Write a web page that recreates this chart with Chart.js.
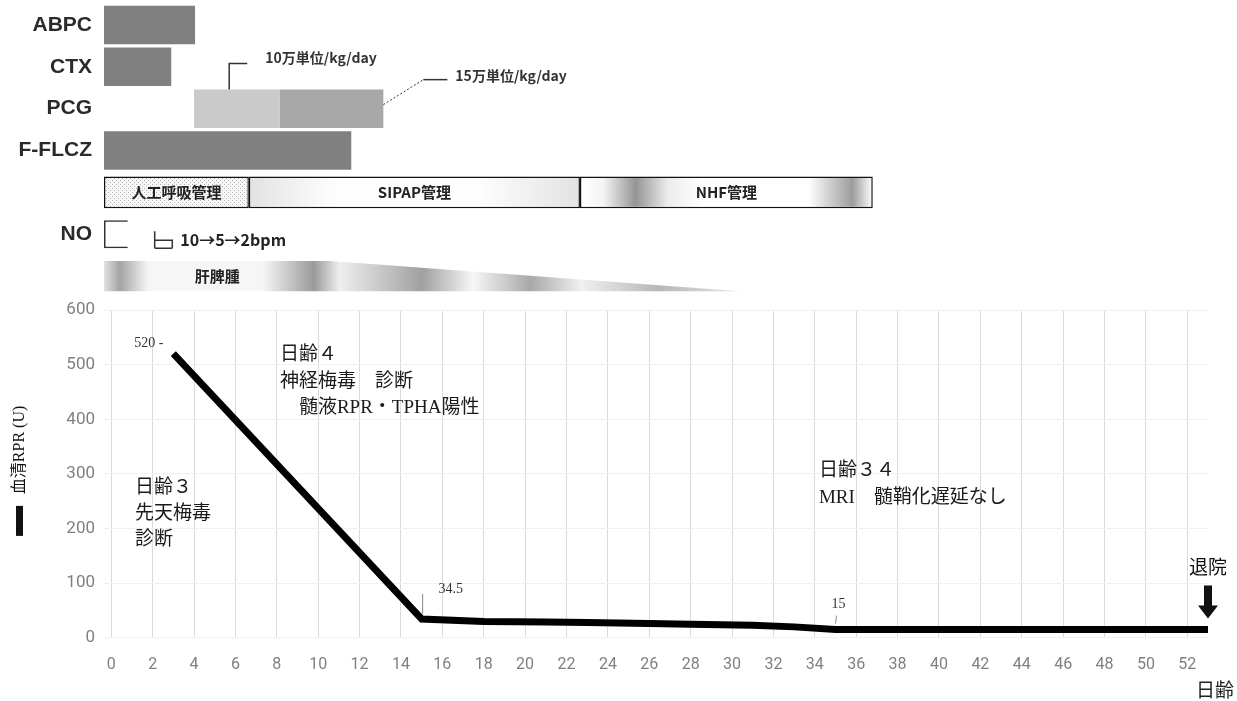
<!DOCTYPE html>
<html>
<head>
<meta charset="utf-8">
<script src="https://cdn.jsdelivr.net/npm/chart.js@4.4.0/dist/chart.umd.min.js"></script>
<style>
html,body{margin:0;padding:0;background:#fff;overflow:hidden;}
#top{position:absolute;left:0;top:0;width:1237px;height:300px;}
#bottom{position:absolute;left:0;top:297px;width:1237px;height:404px;}
</style>
</head>
<body>
<div id="top"><canvas id="therapy"></canvas></div>
<div id="bottom"><canvas id="rpr"></canvas></div>
<script>
// 治療経過（日齢）
const rows = ['ABPC','CTX','PCG','F-FLCZ','','NO',''];
const abpc = [-0.35, 4.05];
const ctx = [-0.35, 2.9];
const fflcz = [-0.35, 11.6];
const pcg10 = [4.0, 8.15];
const pcg15 = [8.15, 13.15];
const pcgNotes = ['10万単位/kg/day', '15万単位/kg/day'];
const respNames = ['人工呼吸管理', 'SIPAP管理', 'NHF管理'];
const respSpans = [[-0.35, 6.65], [6.65, 22.65], [22.65, 36.8]];
const noSpan = [-0.35, 0.8];
const noStep = [2.1, 2.95];
const noText = '10→5→2bpm';
const hsmName = '肝脾腫';
const hsmDays = [-0.35, 10.6, 30.4];

// 血清RPR
const days = [3, 15, 18, 21, 23, 26, 28, 31, 33, 35, 53];
const rpr = [520, 34.5, 30, 29, 28, 26, 25, 23, 20, 15, 15];
const noteDay3 = ['日齢３', '先天梅毒', '診断'];
const noteDay4 = ['日齢４', '神経梅毒　診断', '　髄液RPR・TPHA陽性'];
const noteDay34 = ['日齢３４', 'MRI　髄鞘化遅延なし'];
const discharge = '退院';

const X_MIN = -0.35, X_MAX = 53;
const LEFT_W = 104, RIGHT_PAD = 29;
const jp = "'Noto Sans CJK JP', sans-serif";
const serifJp = "'Liberation Serif', 'Noto Sans CJK JP', serif";

function oneRow(i, span) {
  const a = rows.map(() => null);
  a[i] = span;
  return a;
}

function noLabelPad(s) {
  s.width = LEFT_W;
  s.paddingTop = 0;
  s.paddingBottom = 0;
}

function dotPattern() {
  const c = document.createElement('canvas');
  c.width = 4; c.height = 4;
  const g = c.getContext('2d');
  g.fillStyle = '#f6f6f6'; g.fillRect(0, 0, 4, 4);
  g.fillStyle = '#b5b5b5'; g.fillRect(0, 0, 1, 1); g.fillRect(2, 2, 1, 1);
  return g.createPattern(c, 'repeat');
}

function respFill(i) {
  return function (c) {
    const ch = c.chart, xs = ch.scales.x;
    if (i === 0) return dotPattern();
    if (!xs) return '#fff';
    const x0 = xs.getPixelForValue(respSpans[i][0]);
    const x1 = xs.getPixelForValue(respSpans[i][1]);
    if (!isFinite(x0) || !isFinite(x1) || x1 <= x0) return '#fff';
    const g = ch.ctx.createLinearGradient(x0, 0, x1, 0);
    if (i === 1) {
      g.addColorStop(0, '#e2e2e2'); g.addColorStop(0.25, '#fdfdfd');
      g.addColorStop(0.7, '#fdfdfd'); g.addColorStop(1, '#e2e2e2');
    } else {
      g.addColorStop(0, '#ffffff'); g.addColorStop(0.08, '#f4f4f4');
      g.addColorStop(0.19, '#959595'); g.addColorStop(0.3, '#ececec');
      g.addColorStop(0.42, '#ffffff'); g.addColorStop(0.78, '#ffffff');
      g.addColorStop(0.93, '#9c9c9c'); g.addColorStop(1, '#ffffff');
    }
    return g;
  };
}

const therapyDecor = {
  id: 'therapyDecor',
  afterDatasetsDraw(chart) {
    const c = chart.ctx, xs = chart.scales.x, ys = chart.scales.y;
    const band = ys.getPixelForValue(1) - ys.getPixelForValue(0);
    c.save();

    // 呼吸管理の文字
    respNames.forEach((name, i) => {
      const el = chart.getDatasetMeta(3 + i).data[4];
      c.font = 'bold 15px ' + jp;
      c.fillStyle = '#222';
      c.textAlign = 'center'; c.textBaseline = 'middle';
      c.fillText(name, (el.x + el.base) / 2, el.y);
    });

    // PCG 注記
    const p1 = chart.getDatasetMeta(1).data[2];
    const p2 = chart.getDatasetMeta(2).data[2];
    const top1 = p1.y - p1.height / 2;
    const lx = xs.getPixelForValue(5.7);
    c.strokeStyle = '#333'; c.lineWidth = 1.5;
    c.beginPath();
    c.moveTo(lx, top1); c.lineTo(lx, top1 - 26); c.lineTo(lx + 18, top1 - 26);
    c.stroke();
    c.font = 'bold 14px ' + jp;
    c.fillStyle = '#333'; c.textAlign = 'left'; c.textBaseline = 'middle';
    c.fillText(pcgNotes[0], lx + 36, top1 - 32);
    const ex = p2.x;
    c.setLineDash([2, 2]); c.lineWidth = 1;
    c.beginPath(); c.moveTo(ex, p2.y - 4); c.lineTo(ex + 40, p2.y - 29); c.stroke();
    c.setLineDash([]); c.lineWidth = 1.5;
    c.beginPath(); c.moveTo(ex + 40, p2.y - 29); c.lineTo(ex + 64, p2.y - 29); c.stroke();
    c.fillText(pcgNotes[1], ex + 72, p2.y - 33);

    // NO の段階
    const ny = ys.getPixelForValue(5);
    const nh = band * 0.67 / 2;
    const s0 = xs.getPixelForValue(noStep[0]), s1 = xs.getPixelForValue(noStep[1]);
    c.strokeStyle = '#333'; c.lineWidth = 1.5;
    c.beginPath();
    c.moveTo(s0, ny - 3); c.lineTo(s0, ny + nh);
    c.moveTo(s0, ny + nh); c.lineTo(s1, ny + nh);
    c.moveTo(s0, ny + 6); c.lineTo(s1, ny + 6); c.lineTo(s1, ny + nh);
    c.stroke();
    c.font = 'bold 16px ' + jp;
    c.fillStyle = '#222';
    c.fillText(noText, s1 + 8, ny + 6);

    // 肝脾腫
    const hy = ys.getPixelForValue(6);
    const hh = band * 0.36;
    const h0 = xs.getPixelForValue(hsmDays[0]);
    const h1 = xs.getPixelForValue(hsmDays[1]);
    const h2 = xs.getPixelForValue(hsmDays[2]);
    const g = c.createLinearGradient(h0, 0, h2, 0);
    [[0, '#e2e2e2'], [0.025, '#a4a4a4'], [0.07, '#f6f6f6'], [0.25, '#f6f6f6'],
     [0.33, '#9a9a9a'], [0.37, '#efefef'], [0.5, '#a0a0a0'], [0.58, '#f7f7f7'],
     [0.67, '#a8a8a8'], [0.75, '#f0f0f0'], [0.87, '#b8b8b8'], [1, '#e4e4e4']]
      .forEach(s => g.addColorStop(s[0], s[1]));
    c.fillStyle = g;
    c.beginPath();
    c.moveTo(h0, hy - hh); c.lineTo(h1, hy - hh); c.lineTo(h2, hy + hh); c.lineTo(h0, hy + hh);
    c.closePath(); c.fill();
    c.font = 'bold 15px ' + jp;
    c.fillStyle = '#222'; c.textAlign = 'center';
    c.fillText(hsmName, (h0 + h1) / 2, hy);
    c.restore();
  }
};

new Chart(document.getElementById('therapy'), {
  type: 'bar',
  data: {
    labels: rows,
    datasets: [
      { data: [abpc, ctx, null, fflcz, null, null, null], backgroundColor: '#808080', barPercentage: 0.92 },
      { data: oneRow(2, pcg10), backgroundColor: '#cacaca', barPercentage: 0.92 },
      { data: oneRow(2, pcg15), backgroundColor: '#a8a8a8', barPercentage: 0.92 },
      { data: oneRow(4, respSpans[0]), backgroundColor: respFill(0), borderColor: '#111', borderWidth: 1.5, borderSkipped: false, barPercentage: 0.76 },
      { data: oneRow(4, respSpans[1]), backgroundColor: respFill(1), borderColor: '#111', borderWidth: 1.5, borderSkipped: false, barPercentage: 0.76 },
      { data: oneRow(4, respSpans[2]), backgroundColor: respFill(2), borderColor: '#111', borderWidth: 1.5, borderSkipped: false, barPercentage: 0.76 },
      { data: oneRow(5, noSpan), backgroundColor: 'rgba(0,0,0,0)', borderColor: '#333', borderWidth: 1.5, borderSkipped: 'right', barPercentage: 0.67 }
    ]
  },
  options: {
    indexAxis: 'y',
    responsive: true,
    maintainAspectRatio: false,
    animation: false,
    grouped: false,
    categoryPercentage: 1,
    layout: { padding: { top: 4, bottom: 3, left: 0, right: RIGHT_PAD } },
    plugins: { legend: { display: false }, tooltip: { enabled: false } },
    scales: {
      x: { type: 'linear', min: X_MIN, max: X_MAX, display: false },
      y: {
        grid: { display: false, drawTicks: false },
        border: { display: false },
        ticks: { color: '#2a2a2a', padding: 12, font: { family: "'Liberation Sans Narrow', 'Liberation Sans', sans-serif", weight: 'bold', size: 21 } },
        afterFit: noLabelPad
      }
    }
  },
  plugins: [therapyDecor]
});

function drawLines(c, lines, x, y, lh) {
  lines.forEach((t, i) => c.fillText(t, x, y + i * lh));
}

const rprDecor = {
  id: 'rprDecor',
  afterDatasetsDraw(chart) {
    const c = chart.ctx, xs = chart.scales.x, ys = chart.scales.y;
    const px = d => xs.getPixelForValue(d), py = v => ys.getPixelForValue(v);
    c.save();
    c.fillStyle = '#1a1a1a';
    c.textBaseline = 'middle'; c.textAlign = 'left';
    c.font = '19px ' + serifJp;
    drawLines(c, noteDay3, px(1.15), py(274), 26);
    drawLines(c, noteDay4, px(8.15), py(517), 26.5);
    drawLines(c, noteDay34, px(34.2), py(305), 27);

    // 値ラベル
    const first = chart.getDatasetMeta(0).data[0];
    c.font = '14px ' + serifJp;
    c.fillStyle = '#333';
    c.textAlign = 'right';
    c.fillText(rpr[0] + ' -', first.x - 10, first.y - 10);
    const nadir = chart.getDatasetMeta(0).data[1];
    c.textAlign = 'center';
    c.fillText(String(rpr[1]), nadir.x + 29, nadir.y - 30);
    c.strokeStyle = '#888'; c.lineWidth = 1;
    c.beginPath(); c.moveTo(nadir.x + 1, nadir.y - 25); c.lineTo(nadir.x + 1, nadir.y - 5); c.stroke();
    const low = chart.getDatasetMeta(0).data[days.indexOf(35)];
    c.fillText(String(rpr[days.indexOf(35)]), low.x + 3, low.y - 25);
    c.beginPath(); c.moveTo(low.x + 1, low.y - 14); c.lineTo(low.x, low.y - 6); c.stroke();

    // 退院
    const last = chart.getDatasetMeta(0).data[days.length - 1];
    c.fillStyle = '#111';
    c.font = '19px ' + jp;
    c.fillText(discharge, last.x, last.y - 63);
    const ax = last.x, at = last.y - 44, ab = last.y - 11;
    c.beginPath();
    c.moveTo(ax - 4, at); c.lineTo(ax + 4, at); c.lineTo(ax + 4, ab - 13);
    c.lineTo(ax + 10, ab - 13); c.lineTo(ax, ab); c.lineTo(ax - 10, ab - 13);
    c.lineTo(ax - 4, ab - 13); c.closePath(); c.fill();

    // 凡例の線（縦軸タイトルの下）
    const mid = (ys.top + ys.bottom) / 2;
    c.fillRect(16, mid + 32, 7, 30);

    // x軸タイトル
    c.font = '19px ' + jp;
    c.textAlign = 'left';
    c.fillStyle = '#222';
    c.fillText('日齢', 1196, chart.height - 11);
    c.restore();
  }
};

new Chart(document.getElementById('rpr'), {
  type: 'line',
  data: {
    datasets: [{
      label: '血清RPR (U)',
      data: days.map((d, i) => ({ x: d, y: rpr[i] })),
      borderColor: '#000',
      borderWidth: 7,
      pointRadius: 0,
      tension: 0,
      fill: false
    }]
  },
  options: {
    responsive: true,
    maintainAspectRatio: false,
    animation: false,
    layout: { padding: { top: 13, bottom: 8, left: 0, right: RIGHT_PAD } },
    plugins: { legend: { display: false }, tooltip: { enabled: false } },
    scales: {
      x: {
        type: 'linear', min: X_MIN, max: X_MAX,
        afterBuildTicks: s => { s.ticks = s.ticks.filter(t => t.value >= 0 && t.value % 2 === 0); },
        ticks: { stepSize: 2, includeBounds: false, autoSkip: false, maxRotation: 0, padding: 18, color: '#808080', font: { family: 'Roboto', size: 16 } },
        grid: { color: '#dadada', drawTicks: false },
        border: { display: false }
      },
      y: {
        min: 0, max: 600,
        ticks: { stepSize: 100, padding: 9, color: '#808080', font: { family: 'Roboto', size: 17 } },
        grid: { color: '#f1f1f1', drawTicks: false },
        border: { display: false },
        title: { display: true, text: '　　　血清RPR (U)', color: '#111', padding: { top: 10, bottom: 0 }, font: { family: serifJp, size: 16 } },
        afterFit: noLabelPad
      }
    }
  },
  plugins: [rprDecor]
});
</script>
</body>
</html>
